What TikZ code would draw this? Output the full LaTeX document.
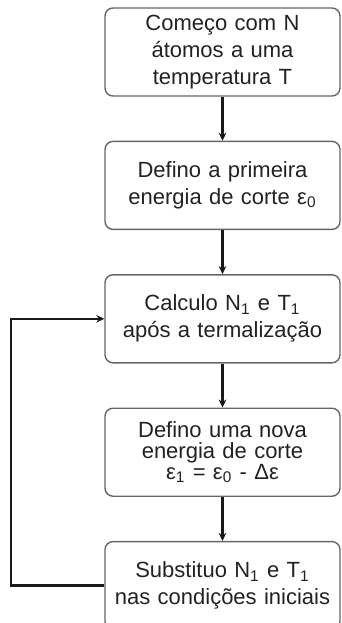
\documentclass[tikz,border=0pt]{standalone}
\usepackage{fontspec}
\setmainfont{Liberation Sans}
\usetikzlibrary{arrows.meta,positioning}
\definecolor{fluxGray}{HTML}{666666}
\definecolor{fluxText}{HTML}{222222}
\tikzset{
  flow/.style={-{Stealth[length=4pt,width=3.8pt]}, line width=1.2pt, draw=black!90},
  step box/.style={draw=fluxGray, line width=0.7pt, rounded corners=4pt,
    align=center, text width=112pt, minimum width=117.5pt,
    minimum height=44pt, inner sep=2pt, text=fluxText,
    font=\fontsize{11}{13.5}\selectfont},
  tight box/.style={step box, font=\fontsize{11}{10.5}\selectfont}
}
\begin{document}
\begin{tikzpicture}[node distance=22pt]
  \useasboundingbox (-111.25pt,26pt) rectangle (59.75pt,-285.5pt);
  \node[step box] (start) {Começo com N\\átomos a uma\\temperatura T};
  \node[step box, below=of start] (cut0) {Defino a primeira\\energia de corte ε\textsubscript{0}};
  \node[step box, below=of cut0] (calc) {Calculo N\textsubscript{1} e T\textsubscript{1}\\após a termalização};
  \node[tight box, below=of calc] (cut1) {Defino uma nova\\energia de corte\\ε\textsubscript{1} = ε\textsubscript{0} - Δε};
  \node[step box, below=of cut1] (subst) {Substituo N\textsubscript{1} e T\textsubscript{1}\\nas condições iniciais};
  \draw[flow] (start) -- (cut0);
  \draw[flow] (cut0) -- (calc);
  \draw[flow] (calc) -- (cut1);
  \draw[flow] (cut1) -- (subst);
  \draw[flow] (subst.west) -- ++(-46.5pt,0) |- (calc.west);
\end{tikzpicture}
\end{document}
